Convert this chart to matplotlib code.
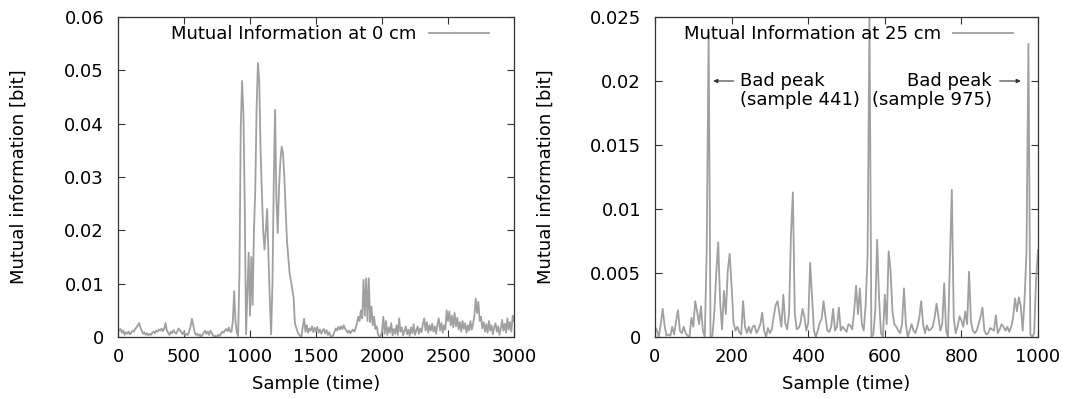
import numpy as np
import matplotlib
matplotlib.use("Agg")
import matplotlib.pyplot as plt

# ---------------- data ----------------
# Mutual information at 0 cm, one value every 10 samples (0..3000)
mi_0cm = [
    0.0018, 0.0012, 0.0015, 0.0008, 0.0012, 0.0004, 0.0009, 0.0006, 0.0010, 0.0005,
    0.0008, 0.0012, 0.0010, 0.0015, 0.0018, 0.0022, 0.0026, 0.0018, 0.0012, 0.0006,
    0.0009, 0.0004, 0.0007, 0.0003, 0.0006, 0.0004, 0.0008, 0.0010, 0.0007, 0.0012,
    0.0010, 0.0014, 0.0012, 0.0016, 0.0011, 0.0015, 0.0026, 0.0012, 0.0008, 0.0004,
    0.0010, 0.0007, 0.0013, 0.0009, 0.0006, 0.0011, 0.0016, 0.0012, 0.0009, 0.0005,
    0.0010, 0.0003, 0.0006, 0.0004, 0.0012, 0.0020, 0.0034, 0.0022, 0.0010, 0.0004,
    0.0006, 0.0002, 0.0005, 0.0001, 0.0004, 0.0008, 0.0012, 0.0006, 0.0010, 0.0004,
    0.0012, 0.0008, 0.0003, 0.0001, 0.0002, 0.0001, 0.0004, 0.0002, 0.0006, 0.0010,
    0.0008, 0.0012, 0.0015, 0.0011, 0.0018, 0.0010, 0.0010, 0.0030, 0.0086, 0.0030,
    0.0008, 0.0002, 0.0120, 0.0395, 0.0480, 0.0420, 0.0250, 0.0005, 0.0080, 0.0158,
    0.0040, 0.0150, 0.0060, 0.0200, 0.0276, 0.0430, 0.0514, 0.0480, 0.0350, 0.0270,
    0.0200, 0.0164, 0.0200, 0.0240, 0.0150, 0.0070, 0.0005, 0.0100, 0.0290, 0.0426,
    0.0258, 0.0195, 0.0280, 0.0330, 0.0357, 0.0345, 0.0300, 0.0240, 0.0180, 0.0150,
    0.0120, 0.0105, 0.0090, 0.0075, 0.0026, 0.0018, 0.0010, 0.0005, 0.0002, 0.0001,
    0.0020, 0.0034, 0.0010, 0.0022, 0.0008, 0.0016, 0.0012, 0.0020, 0.0009, 0.0017,
    0.0011, 0.0019, 0.0008, 0.0014, 0.0006, 0.0012, 0.0015, 0.0007, 0.0013, 0.0004,
    0.0009, 0.0002, 0.0001, 0.0003, 0.0010, 0.0016, 0.0012, 0.0019, 0.0014, 0.0020,
    0.0015, 0.0022, 0.0016, 0.0012, 0.0008, 0.0012, 0.0007, 0.0011, 0.0014, 0.0010,
    0.0016, 0.0025, 0.0038, 0.0030, 0.0050, 0.0035, 0.0107, 0.0040, 0.0110, 0.0030,
    0.0110, 0.0028, 0.0057, 0.0022, 0.0038, 0.0015, 0.0020, 0.0005, 0.0001, 0.0002,
    0.0010, 0.0038, 0.0006, 0.0030, 0.0004, 0.0018, 0.0008, 0.0026, 0.0003, 0.0015,
    0.0006, 0.0022, 0.0004, 0.0035, 0.0010, 0.0018, 0.0003, 0.0012, 0.0020, 0.0005,
    0.0014, 0.0002, 0.0018, 0.0007, 0.0024, 0.0004, 0.0012, 0.0020, 0.0006, 0.0016,
    0.0009, 0.0025, 0.0035, 0.0012, 0.0028, 0.0008, 0.0022, 0.0012, 0.0025, 0.0010,
    0.0020, 0.0006, 0.0024, 0.0035, 0.0012, 0.0026, 0.0008, 0.0022, 0.0014, 0.0050,
    0.0030, 0.0048, 0.0022, 0.0040, 0.0018, 0.0045, 0.0020, 0.0036, 0.0014, 0.0028,
    0.0010, 0.0030, 0.0015, 0.0026, 0.0008, 0.0022, 0.0012, 0.0030, 0.0014, 0.0025,
    0.0040, 0.0072, 0.0045, 0.0066, 0.0030, 0.0038, 0.0016, 0.0028, 0.0010, 0.0024,
    0.0008, 0.0030, 0.0012, 0.0022, 0.0005, 0.0018, 0.0026, 0.0010, 0.0020, 0.0004,
    0.0016, 0.0032, 0.0012, 0.0025, 0.0008, 0.0035, 0.0014, 0.0028, 0.0010, 0.0040,
    0.0030,
]
step_0cm = 10

# Mutual information at 25 cm, one value every 5 samples (0..1000)
mi_25cm = [
    0.0008, 0.0005, 0.0000, 0.0010, 0.0022, 0.0009, 0.0001, 0.0002, 0.0001, 0.0008,
    0.0002, 0.0012, 0.0021, 0.0005, 0.0003, 0.0008, 0.0003, 0.0001, 0.0000, 0.0015,
    0.0008, 0.0028, 0.0020, 0.0010, 0.0024, 0.0005, 0.0000, 0.0068, 0.0238, 0.0000,
    0.0001, 0.0020, 0.0050, 0.0074, 0.0028, 0.0006, 0.0036, 0.0018, 0.0052, 0.0065,
    0.0040, 0.0011, 0.0005, 0.0008, 0.0004, 0.0002, 0.0028, 0.0008, 0.0003, 0.0008,
    0.0003, 0.0008, 0.0009, 0.0003, 0.0006, 0.0010, 0.0019, 0.0005, 0.0000, 0.0007,
    0.0003, 0.0006, 0.0016, 0.0025, 0.0028, 0.0018, 0.0008, 0.0033, 0.0011, 0.0006,
    0.0018, 0.0080, 0.0113, 0.0018, 0.0006, 0.0007, 0.0011, 0.0022, 0.0016, 0.0005,
    0.0011, 0.0058, 0.0032, 0.0005, 0.0000, 0.0005, 0.0011, 0.0014, 0.0028, 0.0016,
    0.0005, 0.0004, 0.0008, 0.0022, 0.0005, 0.0008, 0.0023, 0.0005, 0.0008, 0.0006,
    0.0004, 0.0010, 0.0009, 0.0006, 0.0020, 0.0040, 0.0018, 0.0038, 0.0010, 0.0005,
    0.0025, 0.0063, 0.0250, 0.0000, 0.0002, 0.0020, 0.0076, 0.0030, 0.0003, 0.0000,
    0.0033, 0.0010, 0.0067, 0.0052, 0.0020, 0.0010, 0.0008, 0.0005, 0.0003, 0.0010,
    0.0038, 0.0010, 0.0000, 0.0005, 0.0010, 0.0005, 0.0003, 0.0008, 0.0015, 0.0028,
    0.0010, 0.0003, 0.0009, 0.0005, 0.0006, 0.0008, 0.0015, 0.0026, 0.0016, 0.0005,
    0.0010, 0.0042, 0.0005, 0.0000, 0.0060, 0.0115, 0.0015, 0.0003, 0.0008, 0.0016,
    0.0013, 0.0008, 0.0020, 0.0010, 0.0051, 0.0012, 0.0005, 0.0003, 0.0005, 0.0010,
    0.0016, 0.0023, 0.0005, 0.0002, 0.0003, 0.0007, 0.0006, 0.0005, 0.0017, 0.0003,
    0.0006, 0.0010, 0.0008, 0.0005, 0.0008, 0.0004, 0.0008, 0.0015, 0.0030, 0.0020,
    0.0031, 0.0024, 0.0005, 0.0030, 0.0067, 0.0229, 0.0002, 0.0000, 0.0003, 0.0045,
    0.0068,
]
step_25cm = 5

x_ticks_0cm = [0, 500, 1000, 1500, 2000, 2500, 3000]
y_ticks_0cm = [0, 0.01, 0.02, 0.03, 0.04, 0.05, 0.06]
y_labels_0cm = ["0", "0.01", "0.02", "0.03", "0.04", "0.05", "0.06"]
x_ticks_25cm = [0, 200, 400, 600, 800, 1000]
y_ticks_25cm = [0, 0.005, 0.01, 0.015, 0.02, 0.025]
y_labels_25cm = ["0", "0.005", "0.01", "0.015", "0.02", "0.025"]

legend_0cm = "Mutual Information at 0 cm"
legend_25cm = "Mutual Information at 25 cm"
annot_left = ("Bad peak", "(sample 441)")
annot_right = ("Bad peak", "(sample 975)")

# ---------------- plotting ----------------
plt.rcParams['font.family'] = ['DejaVu Sans']
FS = 13
LINE_C = '#a0a0a0'

fig = plt.figure(figsize=(10.66, 3.99), dpi=100)
W, H = 1066.0, 399.0
ax1 = fig.add_axes([118 / W, (H - 337) / H, 396 / W, 320 / H])
ax2 = fig.add_axes([655 / W, (H - 337) / H, 383 / W, 320 / H])


def style(ax, xt, yt, yl, xmax, ymax):
    ax.set_xlim(0, xmax)
    ax.set_ylim(0, ymax)
    ax.set_xticks(xt)
    ax.set_xticklabels([str(v) for v in xt])
    ax.set_yticks(yt)
    ax.set_yticklabels(yl)
    ax.tick_params(direction='in', length=5, width=0.8, color='#333333',
                   top=True, right=True, labelsize=FS, pad=8)
    ax.tick_params(axis='y', pad=10)
    for s in ax.spines.values():
        s.set_linewidth(0.9)
        s.set_color('#333333')
    ax.set_xlabel("Sample (time)", fontsize=FS)
    ax.set_ylabel("Mutual information [bit]", fontsize=FS)


x0 = np.arange(len(mi_0cm)) * step_0cm
x25 = np.arange(len(mi_25cm)) * step_25cm

ax1.plot(x0, mi_0cm, color=LINE_C, lw=1.3, label=legend_0cm)
ax2.plot(x25, mi_25cm, color=LINE_C, lw=1.3, label=legend_25cm)

style(ax1, x_ticks_0cm, y_ticks_0cm, y_labels_0cm, 3000, 0.06)
style(ax2, x_ticks_25cm, y_ticks_25cm, y_labels_25cm, 1000, 0.025)

ax1.yaxis.set_label_coords((28 - 118) / 396, 0.5)
ax2.yaxis.set_label_coords((555 - 655) / 383, 0.5)
ax1.xaxis.set_label_coords(0.5, (337 - 375) / 320)
ax2.xaxis.set_label_coords(0.5, (337 - 375) / 320)

for ax, w in ((ax1, 396), (ax2, 383)):
    ax.legend(loc='upper right', bbox_to_anchor=(1 - 25 / w, 1 - 8 / 320),
              frameon=False, fontsize=FS, markerfirst=False,
              handlelength=3.3, handletextpad=0.7, borderpad=0,
              borderaxespad=0)

# annotations on the 25 cm panel
ax2.text(222, 0.020, annot_left[0], fontsize=FS, ha='left', va='center')
ax2.text(222, 0.01852, annot_left[1], fontsize=FS, ha='left', va='center')
ax2.annotate("", xy=(152, 0.020), xytext=(205, 0.020),
             arrowprops=dict(arrowstyle='-|>', color='#333333', lw=0.8,
                             mutation_scale=6, shrinkA=0, shrinkB=0))
ax2.text(880, 0.020, annot_right[0], fontsize=FS, ha='right', va='center')
ax2.text(880, 0.01852, annot_right[1], fontsize=FS, ha='right', va='center')
ax2.annotate("", xy=(955, 0.020), xytext=(900, 0.020),
             arrowprops=dict(arrowstyle='-|>', color='#333333', lw=0.8,
                             mutation_scale=6, shrinkA=0, shrinkB=0))

fig.savefig("out.png", dpi=100)
